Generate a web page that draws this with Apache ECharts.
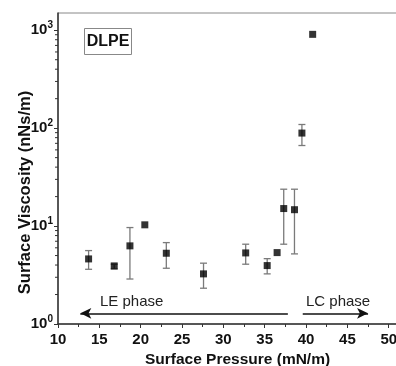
<!DOCTYPE html>
<html>
<head>
<meta charset="utf-8">
<script src="https://cdn.jsdelivr.net/npm/echarts@6/dist/echarts.min.js"></script>
<style>
  html, body { margin: 0; padding: 0; background: #fff; }
  #main { width: 396px; height: 366px; }
</style>
</head>
<body>
<div id="main"></div>
<script>
var myChart = echarts.init(document.getElementById('main'));

// surface pressure (mN/m) and surface viscosity (nNs/m)
var pressure  = [13.7, 16.8, 18.7, 20.5, 23.1, 27.6, 32.7, 35.3, 36.5, 37.3, 38.6, 39.5, 40.8];
var viscosity = [4.62, 3.92, 6.28, 10.3, 5.28, 3.25, 5.32, 3.95, 5.36, 15.1, 14.7, 89.1, 908];
var errLow    = [3.62, 3.65, 2.88, null, 3.71, 2.32, 4.08, 3.25, null, 6.53, 5.2, 66.5, null];
var errHigh   = [5.62, 4.08, 9.66, null, 6.78, 4.18, 6.53, 4.65, null, 23.8, 23.8, 109, null];

var decades = [1, 10, 100];
var minorSteps = [2, 3, 4, 5, 6, 7, 8, 9];

// phase arrows: [from, to, level]
var leArrow = [37.8, 12.7, 1.285];
var lcArrow = [39.6, 47.5, 1.285];

var font = 'Liberation Sans, Arial, sans-serif';

var points = pressure.map(function (x, i) { return [x, viscosity[i]]; });
var errData = [];
pressure.forEach(function (x, i) {
    if (errLow[i] != null) errData.push([x, errLow[i], errHigh[i]]);
});
var minorData = [];
decades.forEach(function (d) {
    minorSteps.forEach(function (s) { minorData.push([10, d * s]); });
});

var option = {
    animation: false,
    grid: {
        left: 58, top: 13, right: -1, bottom: 42,
        outerBoundsMode: 'none',
        containLabel: false,
        show: true, borderColor: '#888', borderWidth: 1
    },
    xAxis: {
        type: 'value',
        min: 10, max: 51, interval: 5,
        name: 'Surface Pressure (mN/m)',
        nameLocation: 'middle',
        nameGap: 25,
        nameTextStyle: { fontFamily: font, fontWeight: 'bold', fontSize: 15.5, color: '#111', padding: [0, 0, 0, 20] },
        axisLine: { lineStyle: { color: '#333', width: 1.5 } },
        axisTick: { inside: false, length: 4, lineStyle: { color: '#333' } },
        minorTick: { show: true, splitNumber: 2, length: 3, lineStyle: { color: '#333' } },
        splitLine: { show: false },
        axisLabel: {
            fontFamily: font, fontWeight: 'bold', fontSize: 15, color: '#111', margin: 8,
            showMaxLabel: false
        }
    },
    yAxis: {
        type: 'log',
        logBase: 10,
        min: 1, max: 1500,
        name: 'Surface Viscosity (nNs/m)',
        nameLocation: 'middle',
        nameGap: 24,
        nameMoveOverlap: false,
        nameTextStyle: { fontFamily: font, fontWeight: 'bold', fontSize: 16.5, color: '#111', padding: [0, 48, 0, 0] },
        axisLine: { lineStyle: { color: '#333', width: 1.5 } },
        axisTick: { length: 4, lineStyle: { color: '#333' } },
        splitLine: { show: false },
        axisLabel: {
            margin: 5,
            showMaxLabel: false,
            formatter: function (v) {
                var e = Math.round(Math.log10(v));
                return '{b|10}{s|' + e + '}';
            },
            rich: {
                b: { fontFamily: font, fontWeight: 'bold', fontSize: 15, color: '#111' },
                s: { fontFamily: font, fontWeight: 'bold', fontSize: 10, color: '#111', padding: [0, 0, 9, 0] }
            }
        }
    },
    graphic: [
        {
            type: 'group', left: 84, top: 28,
            children: [
                { type: 'rect', shape: { x: 0, y: 0, width: 47, height: 26 }, style: { fill: '#fff', stroke: '#888', lineWidth: 1 } },
                { type: 'text', x: 23.5, y: 13.5, style: { text: 'DLPE', font: 'bold 16px ' + font, fill: '#111', align: 'center', verticalAlign: 'middle' } }
            ]
        },
        { type: 'text', left: 100, top: 294, style: { text: 'LE phase', font: '15px ' + font, fill: '#222' } },
        { type: 'text', left: 306, top: 294, style: { text: 'LC phase', font: '15px ' + font, fill: '#222' } }
    ],
    series: [
        {
            name: 'minor',
            type: 'custom',
            silent: true,
            clip: false,
            data: minorData,
            z: 10,
            renderItem: function (params, api) {
                var p = api.coord([api.value(0), api.value(1)]);
                return {
                    type: 'line',
                    shape: { x1: p[0] - 3, y1: p[1], x2: p[0], y2: p[1] },
                    style: { stroke: '#333', lineWidth: 1 }
                };
            }
        },
        {
            name: 'error',
            type: 'custom',
            silent: true,
            data: errData,
            renderItem: function (params, api) {
                var x = api.value(0);
                var lo = api.coord([x, api.value(1)]);
                var hi = api.coord([x, api.value(2)]);
                var st = { stroke: '#7a7a7a', lineWidth: 1.3 };
                return {
                    type: 'group',
                    children: [
                        { type: 'line', shape: { x1: lo[0], y1: lo[1], x2: hi[0], y2: hi[1] }, style: st },
                        { type: 'line', shape: { x1: lo[0] - 3.5, y1: lo[1], x2: lo[0] + 3.5, y2: lo[1] }, style: st },
                        { type: 'line', shape: { x1: hi[0] - 3.5, y1: hi[1], x2: hi[0] + 3.5, y2: hi[1] }, style: st }
                    ]
                };
            }
        },
        {
            name: 'DLPE',
            type: 'scatter',
            data: points,
            symbol: 'rect',
            symbolSize: 7,
            itemStyle: { color: '#000' },
            z: 5,
            markLine: {
                silent: true,
                symbol: ['none', 'arrow'],
                symbolSize: [8, 11],
                label: { show: false },
                lineStyle: { color: '#111', width: 1.5, type: 'solid' },
                data: [
                    [{ coord: [leArrow[0], leArrow[2]] }, { coord: [leArrow[1], leArrow[2]] }],
                    [{ coord: [lcArrow[0], lcArrow[2]] }, { coord: [lcArrow[1], lcArrow[2]] }]
                ]
            }
        }
    ]
};
myChart.setOption(option);
</script>
</body>
</html>
